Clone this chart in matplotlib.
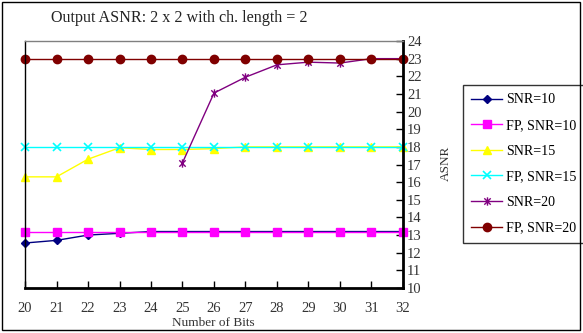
import numpy as np
import matplotlib.pyplot as plt
from matplotlib.path import Path
from matplotlib.patches import Rectangle

# data
bits = [20, 21, 22, 23, 24, 25, 26, 27, 28, 29, 30, 31, 32]
snr10 = [12.55, 12.7, 13.0, 13.1, 13.2, 13.2, 13.2, 13.2, 13.2, 13.2, 13.2, 13.2, 13.2]
fp_snr10 = [13.2] * 13
snr15 = [16.3, 16.3, 17.3, 17.95, 17.85, 17.85, 17.9, 18.0, 18.0, 18.0, 18.0, 18.0, 18.0]
fp_snr15 = [18.0] * 13
bits20 = [25, 26, 27, 28, 29, 30, 31, 32]
snr20 = [17.1, 21.05, 21.95, 22.65, 22.8, 22.75, 23.0, 23.0]
fp_snr20 = [23.0] * 13

labels = ['SNR=10', 'FP, SNR=10', 'SNR=15', 'FP, SNR=15', 'SNR=20', 'FP, SNR=20']

plt.rcParams['font.family'] = ['Liberation Serif', 'DejaVu Serif']

# star marker like excel: x plus a vertical bar
star = Path([(-1, -1), (1, 1), (-1, 1), (1, -1), (0, -1.3), (0, 1.3)],
            [Path.MOVETO, Path.LINETO, Path.MOVETO, Path.LINETO, Path.MOVETO, Path.LINETO])

fig = plt.figure(figsize=(5.83, 3.33), dpi=100)
ax = fig.add_axes([25/583, 1 - 288/333, 378/583, 247/333])

kw = dict(lw=1.0, clip_on=False)
ax.plot(bits, snr10, color='#000080', marker='D', ms=4, label=labels[0], **kw)
ax.plot(bits, fp_snr10, color='#ff00ff', marker='s', ms=6, label=labels[1], **kw)
ax.plot(bits, snr15, color='#ffff00', marker='^', ms=6, label=labels[2], **kw)
ax.plot(bits, fp_snr15, color='#00ffff', marker='x', ms=6, mew=1.2, label=labels[3], **kw)
ax.plot(bits20, snr20, color='#800080', marker=star, ms=6, mew=1.0, label=labels[4], **kw)
ax.plot(bits, fp_snr20, color='#800000', marker='o', ms=6, label=labels[5], **kw)

ax.set_xlim(20, 32)
ax.set_ylim(10, 24)
ax.set_xticks(bits)
ax.set_yticks(range(10, 25))
ax.yaxis.tick_right()
ax.tick_params(axis='both', direction='in', length=5, width=1, labelsize=10.5,
               labelcolor='#333333')
ax.tick_params(axis='x', pad=10)
ax.tick_params(axis='y', pad=3, left=False)

ax.spines['top'].set_color('#808080')
ax.spines['top'].set_linewidth(1)
ax.spines['left'].set_linewidth(1)
ax.spines['bottom'].set_linewidth(2)
ax.spines['right'].set_linewidth(2)

fig.text(179/583, 1 - 18/333, 'Output ASNR: 2 x 2 with ch. length = 2',
         ha='center', va='center', fontsize=11.6, color='#222222')
fig.text(213/583, 1 - 323/333, 'Number of Bits', ha='center', va='center',
         fontsize=9.5, color='#333333')
fig.text(446/583, 1 - 163/333, 'ASNR', ha='center', va='center', rotation=90,
         fontsize=9.5, color='#333333')

leg = ax.legend(loc='upper left', bbox_to_anchor=(463/583, 1 - 85/333),
                bbox_transform=fig.transFigure, borderaxespad=0, fontsize=10.1,
                frameon=True, fancybox=False, edgecolor='black', handlelength=2.2,
                labelspacing=0.9, borderpad=0.6, handletextpad=0.3)
leg.get_frame().set_linewidth(1)

fig.patches.append(Rectangle((0.004, 0.008), 0.99, 0.986, transform=fig.transFigure,
                             fill=False, edgecolor='black', lw=1))

fig.savefig('out.png', dpi=100)
